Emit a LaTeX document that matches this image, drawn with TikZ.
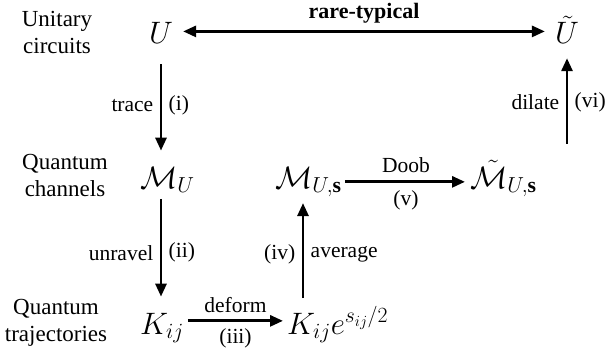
\RequirePackage{fix-cm}
\documentclass[tikz,border=0pt]{standalone}
\usepackage{fontspec}
\setmainfont{Liberation Serif}
\usetikzlibrary{arrows.meta}
\begin{document}
\begin{tikzpicture}[x=1pt,y=-1pt,
 side/.style={align=center,font=\fontsize{23}{27}\selectfont},
 obj/.style={font=\fontsize{31}{36}\selectfont, inner sep=0pt},
 lbl/.style={font=\fontsize{21.5}{25}\selectfont},
 arr/.style={line width=2.8pt,-{Triangle[length=13pt,width=11pt]}},
 darr/.style={line width=2.8pt,{Triangle[length=13pt,width=11pt]}-{Triangle[length=13pt,width=11pt]}}]
\useasboundingbox (0,0) rectangle (615,358);
\node[side] (t1) at (57,32) {Unitary\\circuits};
\node[side] (t2) at (65,175) {Quantum\\channels};
\node[side] (t3) at (56,323) {Quantum\\trajectories};
\node[obj, anchor=base] (U) at (161,44) {$U$};
\node[obj, anchor=base] (Ut) at (567,44) {$\tilde U$};
\node[obj, anchor=base west] (MU) at (140,188) {$\mathcal{M}_U$};
\node[obj, anchor=base west] (MUs) at (275,188) {$\mathcal{M}_{U,\mathbf{s}}$};
\node[obj, anchor=base west] (MUt) at (470,188) {$\tilde{\mathcal{M}}_{U,\mathbf{s}}$};
\node[obj, anchor=base west] (K) at (140,334) {$K_{ij}$};
\node[obj, anchor=base west] (Ke) at (287,334) {$K_{ij}e^{s_{ij}/2}$};
% rare-typical
\draw[darr, shorten <=10pt, shorten >=10pt] ([yshift=2pt]U.east) -- ([yshift=2pt]U.east -| Ut.west)
  node[midway, above=3pt, font=\fontsize{22}{24}\selectfont\bfseries] {rare-typical};
% (i)
\draw[arr, shorten <=20pt, shorten >=16pt] (U.south) -- (U.south |- MU.north)
  node[midway, left=3pt, lbl] {trace} node[midway, right=3pt, lbl] {(i)};
% (ii)
\draw[arr, shorten <=6pt, shorten >=16pt] (U.south |- MU.south) -- (U.south |- K.north)
  node[midway, left=3pt, lbl] {unravel} node[midway, right=3pt, lbl] {(ii)};
% (iii)
\draw[arr, shorten <=4pt, shorten >=4pt] ([yshift=7pt]K.east) -- ([yshift=7pt]K.east -| Ke.west)
  node[midway, above=3pt, lbl] {deform} node[midway, below=3pt, lbl] {(iii)};
% (iv)
\draw[arr, shorten <=36pt, shorten >=6pt] ([xshift=16pt]Ke.base west) -- ([xshift=16pt]Ke.base west |- MUs.south)
  node[pos=0.58, left=3pt, lbl] {(iv)} node[pos=0.58, right=3pt, lbl] {average};
% (v)
\draw[arr, shorten <=3pt, shorten >=5pt] (MUs.east) -- (MUs.east -| MUt.west)
  node[midway, above=4pt, lbl] {Doob} node[midway, below=4pt, lbl] {(v)};
% (vi)
\draw[arr, shorten <=16pt, shorten >=14pt] (Ut.south |- MUt.north) -- (Ut.south)
  node[midway, left=3pt, lbl] {dilate} node[midway, right=3pt, lbl] {(vi)};
\end{tikzpicture}
\end{document}
